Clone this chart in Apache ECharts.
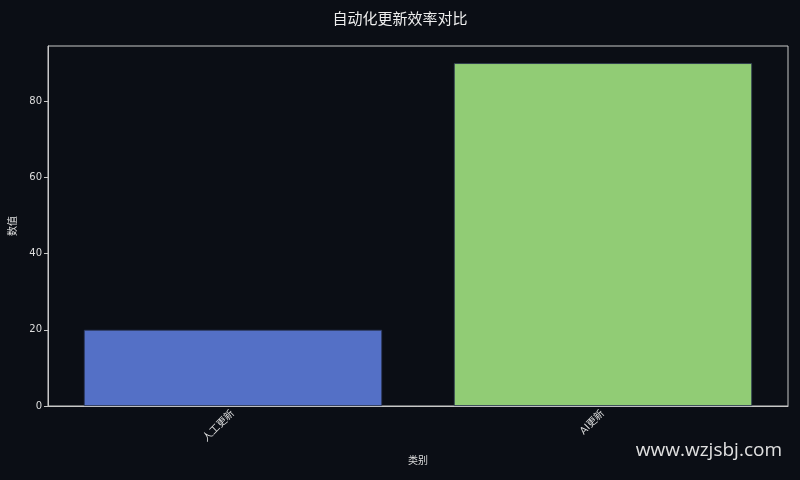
<!DOCTYPE html>
<html>
<head>
	<meta charset="UTF-8">
	<title>自动化更新效率对比</title>
	<style>html,body{margin:0;padding:0;background:#0b0e15;}</style>
</head>
<body>
	<div id="main" style="width:800px;height:480px;"></div>
	<script src="https://cdn.jsdelivr.net/npm/echarts@6/dist/echarts.min.js"></script>
	<script type="text/javascript">
		var categories = ['人工更新', 'AI更新'];
		var values = [20, 90];
		var barColors = ['#5470c6', '#91cc75'];
		var yTicks = [0, 20, 40, 60, 80];

		var chart = echarts.init(document.getElementById('main'));
		var font = '"DejaVu Sans", "Noto Sans CJK SC", sans-serif';

		var option = {
			backgroundColor: '#0b0e15',
			textStyle: { fontFamily: font },
			title: {
				text: '自动化更新效率对比',
				left: 'center',
				top: 8,
				textStyle: { color: '#eeeeee', fontSize: 15, fontWeight: 'normal', fontFamily: font }
			},
			grid: {
				left: 46, right: 12, top: 46, bottom: 74,
				show: true, borderColor: '#c8c8c8', borderWidth: 1
			},
			xAxis: {
				type: 'category',
				data: categories,
				name: '类别',
				nameLocation: 'middle',
				nameGap: 50,
				nameTextStyle: { color: '#dddddd', fontSize: 10 },
				axisLine: { lineStyle: { color: '#c8c8c8' } },
				axisTick: { alignWithLabel: true, length: 4, lineStyle: { color: '#c8c8c8' } },
				axisLabel: { rotate: 45, color: '#dddddd', fontSize: 10, margin: 6 },
				splitLine: { show: false }
			},
			yAxis: {
				type: 'value',
				min: 0,
				max: 94.5,
				name: '数值',
				nameLocation: 'middle',
				nameGap: 30,
				nameTextStyle: { color: '#dddddd', fontSize: 10 },
				axisLine: { show: true, onZero: false, lineStyle: { color: '#c8c8c8' } },
				axisTick: { show: true, length: 4, customValues: yTicks, lineStyle: { color: '#c8c8c8' } },
				axisLabel: { color: '#dddddd', fontSize: 10, margin: 6, customValues: yTicks },
				splitLine: { show: false }
			},
			series: [{
				type: 'bar',
				barWidth: '80.6%',
				data: values.map(function (v, i) {
					return { value: v, itemStyle: { color: barColors[i], borderColor: '#2a3350', borderWidth: 0.8 } };
				})
			}],
			graphic: [{
				type: 'text',
				right: 18,
				bottom: 20,
				style: { text: 'www.wzjsbj.com', fill: '#e0e0e0', fontSize: 19, fontFamily: '"Open Sans", "DejaVu Sans", sans-serif' }
			}]
		};

		chart.setOption(option);
	</script>
</body>
</html>
